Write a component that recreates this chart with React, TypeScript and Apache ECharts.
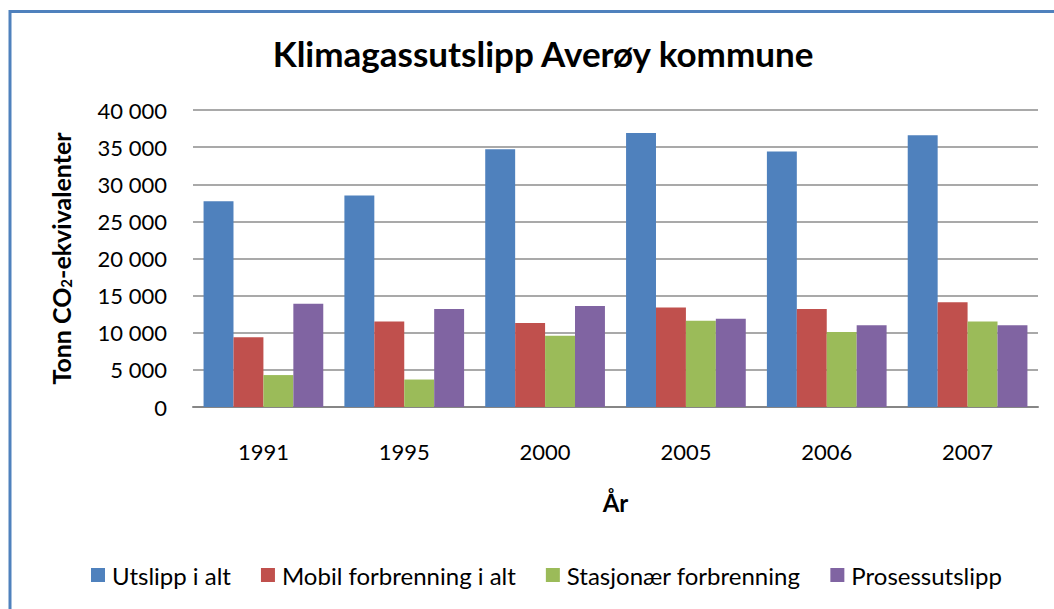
import React, { useEffect, useRef } from "react";
import * as echarts from "echarts";

const years = ["1991", "1995", "2000", "2005", "2006", "2007"];
const seriesNames = [
  "Utslipp i alt",
  "Mobil forbrenning i alt",
  "Stasjonær forbrenning",
  "Prosessutslipp",
];
const utslipp = [27700, 28500, 34700, 36900, 34400, 36600];
const mobil = [9400, 11500, 11300, 13400, 13200, 14100];
const stasjonaer = [4300, 3700, 9600, 11600, 10100, 11500];
const prosess = [13900, 13200, 13600, 11900, 11000, 11000];
const colors = ["#4f81bd", "#c0504d", "#9bbb59", "#8064a2"];

const FONT = "Lato";

function fmt(v: number): string {
  if (v === 0) return "0";
  const s = String(v);
  return s.replace(/\B(?=(\d{3})+(?!\d))/g, " ");
}

export default function App() {
  const ref = useRef<HTMLDivElement>(null);
  useEffect(() => {
    if (!ref.current) return;
    const chart = echarts.init(ref.current, null, { renderer: "svg" });
    const data = [utslipp, mobil, stasjonaer, prosess];
    chart.setOption({
      animation: false,
      backgroundColor: "#ffffff",
      title: {
        text: "Klimagassutslipp Averøy kommune",
        left: 538,
        textAlign: "center",
        top: 30,
        textStyle: { fontFamily: FONT, fontWeight: "bold", fontSize: 35, color: "#000" },
      },
      legend: {
        data: seriesNames,
        top: 558,
        left: 86,
        itemWidth: 14,
        itemHeight: 14,
        itemGap: 30,
        icon: "rect",
        textStyle: { fontFamily: FONT, fontSize: 24, color: "#000", padding: [0, 0, 0, 2] },
      },
      grid: { left: 193, right: 16, top: 110, bottom: 202, containLabel: false },
      xAxis: {
        type: "category",
        data: years,
        axisTick: { show: false },
        axisLine: { lineStyle: { color: "#868686", width: 2 } },
        axisLabel: { fontFamily: FONT, fontSize: 22, color: "#000", margin: 33 },
        name: "År",
        nameLocation: "middle",
        nameGap: 83,
        nameTextStyle: { fontFamily: FONT, fontSize: 24, fontWeight: "bold", color: "#000" },
      },
      yAxis: {
        type: "value",
        min: 0,
        max: 40000,
        interval: 5000,
        axisLine: { show: false },
        axisTick: { show: false },
        splitLine: { lineStyle: { color: "#8c8c8c", width: 1.5 } },
        axisLabel: {
          fontFamily: FONT,
          fontSize: 22,
          color: "#000",
          margin: 26,
          formatter: (v: number) => fmt(v),
        },
        name: "Tonn CO{sub|2}-ekvivalenter",
        nameLocation: "middle",
        nameGap: 120,
        nameRotate: 90,
        nameTextStyle: {
          fontFamily: FONT,
          fontSize: 25,
          fontWeight: "bold",
          color: "#000",
          rich: {
            sub: {
              fontFamily: FONT,
              fontSize: 15,
              fontWeight: "bold",
              color: "#000",
              verticalAlign: "bottom",
              padding: [10, 0, 0, 0],
            },
          },
        },
      },
      series: seriesNames.map((n, i) => ({
        name: n,
        type: "bar",
        data: data[i],
        barGap: "0%",
        barCategoryGap: "15%",
        itemStyle: { color: colors[i] },
      })),
      graphic: [
        {
          type: "rect",
          shape: { x: 10, y: 11.5, width: 1200, height: 800 },
          style: { fill: "none", stroke: "#4f81bd", lineWidth: 3 },
          silent: true,
        },
      ],
    });
    return () => chart.dispose();
  }, []);
  return (
    <div
      ref={ref}
      style={{ position: "fixed", left: 0, top: 0, width: 1054, height: 609 }}
    />
  );
}
